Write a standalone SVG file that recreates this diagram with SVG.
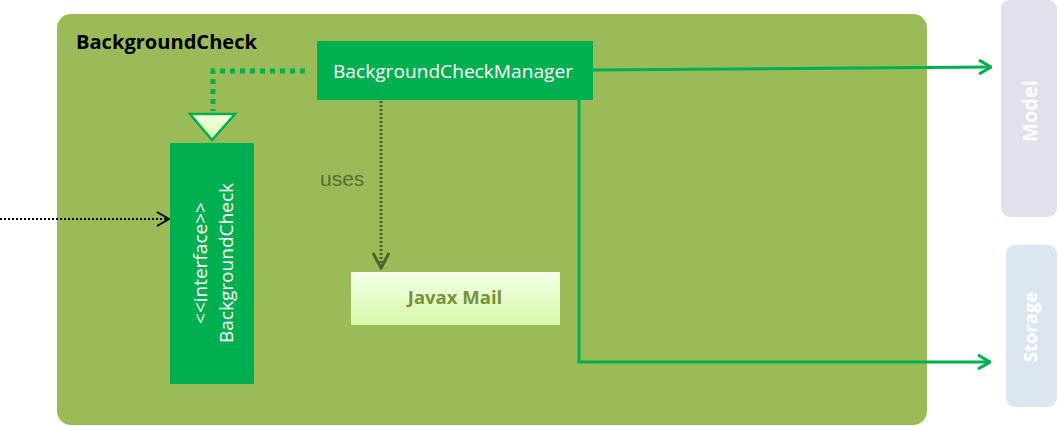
<svg xmlns="http://www.w3.org/2000/svg" width="1059" height="426" viewBox="0 0 1059 426">
<defs>
<style>
.t{font-family:"Open Sans","Liberation Sans",sans-serif}
.g{fill:#00B050}
.gl{stroke:#00B050;stroke-width:3;fill:none}
</style>
<linearGradient id="lg" x1="0" y1="0" x2="0" y2="1">
<stop offset="0" stop-color="#F4FFE8"/><stop offset="1" stop-color="#D8F8A8"/>
</linearGradient>
<linearGradient id="tg" x1="0" y1="0" x2="0" y2="1">
<stop offset="0" stop-color="#F4FFE8"/><stop offset="1" stop-color="#D8F8A8"/>
</linearGradient>
<marker id="ag" markerWidth="14" markerHeight="16" refX="13" refY="8" orient="auto" markerUnits="userSpaceOnUse">
<path d="M1,1 L13,8 L1,15" fill="none" stroke="#00B050" stroke-width="3"/>
</marker>
<marker id="ab" markerWidth="14" markerHeight="16" refX="13" refY="8" orient="auto" markerUnits="userSpaceOnUse">
<path d="M1,1 L13,8 L1,15" fill="none" stroke="#000" stroke-width="2"/>
</marker>
<marker id="ao" markerWidth="18" markerHeight="18" refX="16" refY="9" orient="auto" markerUnits="userSpaceOnUse">
<path d="M1,1 L16,9 L1,17" fill="none" stroke="#4F6228" stroke-width="3"/>
</marker>
</defs>
<g id="container">
<rect x="57" y="14" width="870" height="411" rx="14" fill="#9BBB59"/>
<text class="t" x="76" y="49" font-size="20" font-weight="bold" fill="#000" textLength="181" lengthAdjust="spacingAndGlyphs">BackgroundCheck</text>
</g>
<g id="model">
<rect x="1001" y="0" width="56" height="217" rx="9" fill="#E4DFEC"/>
<text class="t" transform="translate(1037,111) rotate(-90)" text-anchor="middle" font-size="20" font-weight="bold" fill="#fff">Model</text>
</g>
<g id="storage">
<rect x="1006" y="245" width="51" height="162" rx="9" fill="#DCE6F2"/>
<text class="t" transform="translate(1037,327) rotate(-90)" text-anchor="middle" font-size="18.5" font-weight="bold" fill="#fff">Storage</text>
</g>
<g id="manager">
<rect x="317" y="41" width="276" height="59" rx="1" class="g"/>
<text class="t" x="453" y="78" text-anchor="middle" font-size="19" fill="#fff" textLength="240" lengthAdjust="spacingAndGlyphs">BackgroundCheckManager</text>
</g>
<g id="interface">
<rect x="170" y="143" width="84" height="241" rx="1" class="g"/>
<text class="t" transform="translate(207,263) rotate(-90)" text-anchor="middle" font-size="19" fill="#fff">&lt;&lt;interface&gt;&gt;</text>
<text class="t" transform="translate(233,263) rotate(-90)" text-anchor="middle" font-size="19" fill="#fff" textLength="160" lengthAdjust="spacingAndGlyphs">BackgroundCheck</text>
</g>
<g id="javaxmail">
<rect x="351" y="272" width="209" height="53" fill="url(#lg)"/>
<text class="t" x="455" y="304" text-anchor="middle" font-size="18.5" font-weight="bold" fill="#76923C">Javax Mail</text>
</g>
<g id="connectors">
<path d="M305,71 H213 V111" fill="none" stroke="#00B050" stroke-width="5" stroke-dasharray="5,5"/>
<path d="M190,114 L235,114 L212,140 Z" fill="url(#tg)" stroke="#00B050" stroke-width="2.5" stroke-linejoin="miter"/>
<line x1="381" y1="101" x2="381" y2="268" stroke="#4F6228" stroke-width="3" stroke-dasharray="2,2" marker-end="url(#ao)"/>
<text x="320" y="186" font-family="Liberation Sans, Arial, sans-serif" font-size="21" fill="#5A6B32">uses</text>
<line x1="0" y1="219" x2="169" y2="219" stroke="#000" stroke-width="2" stroke-dasharray="2,2" marker-end="url(#ab)"/>
<path d="M593,70 L991,67" class="gl" marker-end="url(#ag)"/>
<path d="M579,100 V362 H990" class="gl" marker-end="url(#ag)"/>
</g>
</svg>
